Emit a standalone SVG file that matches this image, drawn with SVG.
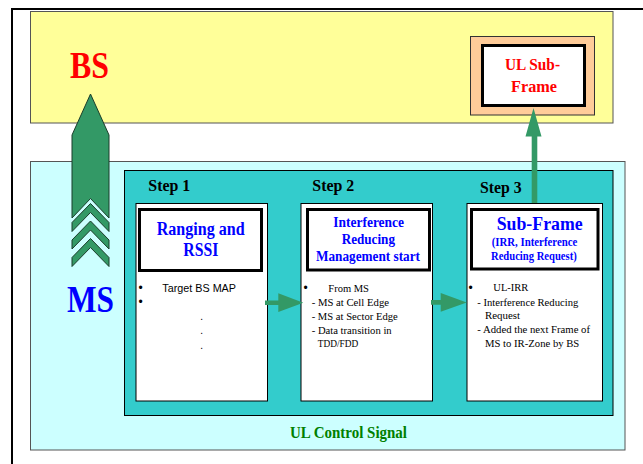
<svg xmlns="http://www.w3.org/2000/svg" width="643" height="464" viewBox="0 0 643 464">
<defs>
<style>
.serif{font-family:"Liberation Serif","Times New Roman",serif}
.sans{font-family:"Liberation Sans",Arial,sans-serif}
.b{font-weight:bold}
.title{font-family:"Liberation Serif","Times New Roman",serif;font-weight:bold;fill:#0000FF}
.body{font-family:"Liberation Serif","Times New Roman",serif;font-size:11px;fill:#000}
.step{font-family:"Liberation Serif","Times New Roman",serif;font-weight:bold;font-size:17px;fill:#000}
.bullet{font-family:"Liberation Sans",Arial,sans-serif;font-size:12px;fill:#000}
.stepbox{fill:#FFFFFF;stroke:#000;stroke-width:1}
.titlebox{fill:#FFFFFF;stroke:#000;stroke-width:3}
.arrow{fill:#339966;stroke:none}
.big{fill:#339966;stroke:#1B3D2A;stroke-width:1;stroke-linejoin:miter}
</style>
</defs>
<rect width="643" height="464" fill="#FFFFFF"/>
<!-- outer frame -->
<path d="M12,464 L12,9 L643,9" fill="none" stroke="#000" stroke-width="2"/>

<g id="bs">
<rect x="30.5" y="11.5" width="582.5" height="111.5" fill="#FFFF99" stroke="#555555" stroke-width="1"/>
<text x="70" y="78" class="serif b" font-size="37" fill="#FF0000" textLength="39" lengthAdjust="spacingAndGlyphs">BS</text>
</g>

<g id="ul-subframe">
<rect x="470.5" y="36.5" width="124" height="78.5" fill="#FFCC99" stroke="#333333" stroke-width="1"/>
<rect x="482.5" y="45.5" width="102" height="60" class="titlebox"/>
<text x="505" y="70" class="serif b" font-size="17" fill="#FF0000" textLength="55" lengthAdjust="spacingAndGlyphs">UL Sub-</text>
<text x="511" y="92" class="serif b" font-size="17" fill="#FF0000" textLength="46" lengthAdjust="spacingAndGlyphs">Frame</text>
</g>

<g id="ul-control">
<rect x="30.5" y="161.5" width="594.5" height="288.5" fill="#CCFFFF" stroke="#555555" stroke-width="1"/>
<rect x="124.5" y="170.5" width="488.5" height="245" fill="#33CCCC" stroke="#000" stroke-width="1"/>
<text x="290" y="437.7" class="serif b" font-size="16.5" fill="#008000" textLength="117" lengthAdjust="spacingAndGlyphs">UL Control Signal</text>
</g>

<g id="ms">
<polygon class="big" points="90.5,94 109,135 109,218 90.5,198.5 72,218 72,135"/>
<polygon class="big" points="90.5,203.5 109,222.5 109,231.5 90.5,212.5 72,231.5 72,222.5"/>
<polygon class="big" points="90.5,221 109,240 109,249 90.5,230 72,249 72,240"/>
<polygon class="big" points="90.5,238.5 109,257.5 109,266.5 90.5,247.5 72,266.5 72,257.5"/>
<text x="67" y="312" class="serif b" font-size="37" fill="#0000FF" textLength="47" lengthAdjust="spacingAndGlyphs">MS</text>
</g>

<g id="step1">
<text x="148.3" y="191" class="step" textLength="42" lengthAdjust="spacingAndGlyphs">Step 1</text>
<rect x="136" y="203.5" width="131.5" height="197.5" class="stepbox"/>
<rect x="139.5" y="209.5" width="122" height="61" class="titlebox"/>
<text x="156.7" y="235" class="title" font-size="18" textLength="88" lengthAdjust="spacingAndGlyphs">Ranging and</text>
<text x="183.3" y="256" class="title" font-size="18" textLength="35" lengthAdjust="spacingAndGlyphs">RSSI</text>
<text x="140.7" y="292.1" class="bullet" text-anchor="middle">•</text>
<text x="140.7" y="306.4" class="bullet" text-anchor="middle">•</text>
<text x="162.3" y="291.7" class="sans" font-size="10.5" fill="#000" textLength="73.7" lengthAdjust="spacingAndGlyphs">Target BS MAP</text>
<text x="201.7" y="320" class="sans" font-size="10" text-anchor="middle">.</text>
<text x="201.7" y="334" class="sans" font-size="10" text-anchor="middle">.</text>
<text x="201.7" y="349" class="sans" font-size="10" text-anchor="middle">.</text>
</g>

<g id="step2">
<text x="312.3" y="191" class="step" textLength="42" lengthAdjust="spacingAndGlyphs">Step 2</text>
<rect x="301" y="203.5" width="131.5" height="197.5" class="stepbox"/>
<rect x="307.5" y="209.5" width="122" height="60.5" class="titlebox"/>
<text x="333.3" y="226.7" class="title" font-size="14" textLength="70.7" lengthAdjust="spacingAndGlyphs">Interference</text>
<text x="341.7" y="244" class="title" font-size="14" textLength="53.3" lengthAdjust="spacingAndGlyphs">Reducing</text>
<text x="316" y="261" class="title" font-size="14" textLength="104" lengthAdjust="spacingAndGlyphs">Management start</text>
<text x="305.7" y="292.1" class="bullet" text-anchor="middle">•</text>
<text x="328.3" y="291.7" class="body" textLength="40.7" lengthAdjust="spacingAndGlyphs">From MS</text>
<text x="311.7" y="306" class="body" textLength="77.3" lengthAdjust="spacingAndGlyphs">- MS at Cell Edge</text>
<text x="311.7" y="320" class="body" textLength="86" lengthAdjust="spacingAndGlyphs">- MS at Sector Edge</text>
<text x="311.7" y="334" class="body" textLength="80" lengthAdjust="spacingAndGlyphs">- Data transition in</text>
<text x="317.7" y="346.7" class="body" textLength="40.6" lengthAdjust="spacingAndGlyphs">TDD/FDD</text>
</g>

<g id="step3">
<text x="480" y="192.5" class="step" textLength="41.7" lengthAdjust="spacingAndGlyphs">Step 3</text>
<rect x="467" y="203.5" width="135.5" height="197.5" class="stepbox"/>
<rect x="471.5" y="209.5" width="126.5" height="59.5" class="titlebox"/>
<text x="496.7" y="230" class="title" font-size="18" textLength="86" lengthAdjust="spacingAndGlyphs">Sub-Frame</text>
<text x="491.7" y="246" class="title" font-size="13" textLength="85.6" lengthAdjust="spacingAndGlyphs">(IRR, Interference</text>
<text x="491" y="260" class="title" font-size="13" textLength="85.7" lengthAdjust="spacingAndGlyphs">Reducing Request)</text>
<text x="470.7" y="292.1" class="bullet" text-anchor="middle">•</text>
<text x="493.3" y="291" class="body" textLength="35" lengthAdjust="spacingAndGlyphs">UL-IRR</text>
<text x="477.3" y="305.7" class="body" textLength="101" lengthAdjust="spacingAndGlyphs">- Interference Reducing</text>
<text x="485" y="319" class="body" textLength="35" lengthAdjust="spacingAndGlyphs">Request</text>
<text x="477.3" y="333" class="body" textLength="112.7" lengthAdjust="spacingAndGlyphs">- Added the next Frame of</text>
<text x="485" y="346.7" class="body" textLength="94.3" lengthAdjust="spacingAndGlyphs">MS to IR-Zone by BS</text>
</g>

<g id="connectors">
<polygon class="arrow" points="265,300.4 278.3,300.4 278.3,293.3 303.3,302.7 278.3,312 278.3,305 265,305"/>
<polygon class="arrow" points="431,300 440.7,300 440.7,293 466.7,302.4 440.7,311.7 440.7,304.7 431,304.7"/>
<polygon class="arrow" points="531.7,203 531.7,136.5 525.5,136.5 533.5,108 541.5,136.5 537.3,136.5 537.3,203"/>
</g>
</svg>
